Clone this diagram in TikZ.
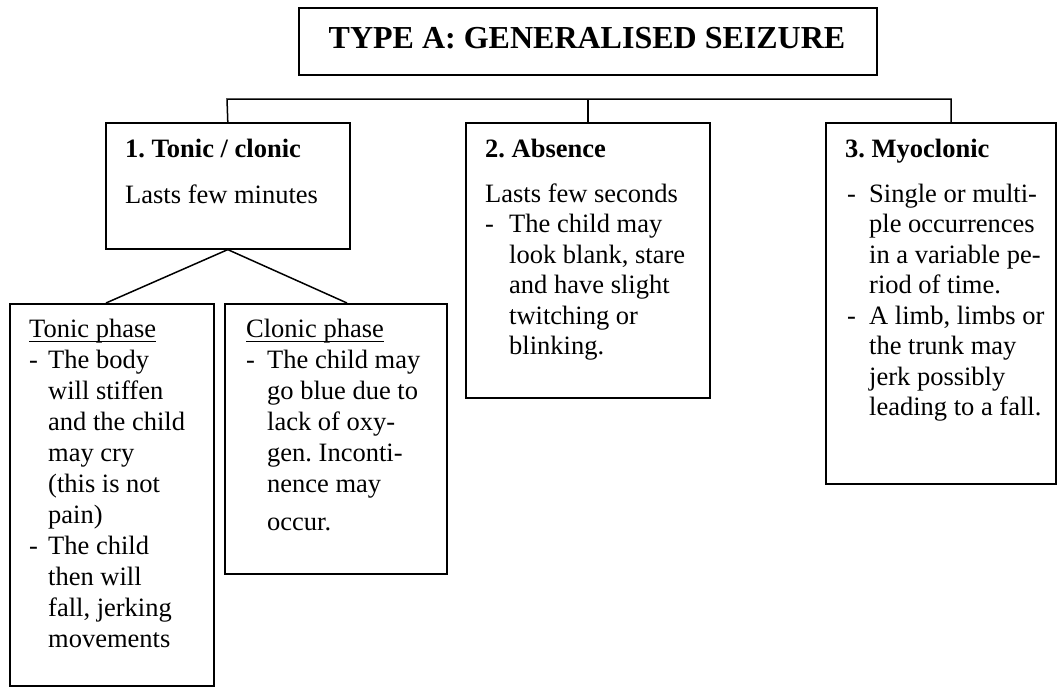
\documentclass[tikz,border=0pt]{standalone}
\usepackage{fontspec}
\setmainfont{Liberation Serif}
\frenchspacing
\newcommand\dashit[1]{\makebox[#1][l]{-}}
\newcommand\indit[1]{\hspace*{#1}}
\newcommand\ulin[1]{\setbox0\hbox{#1}\rlap{\rule[-5pt]{\wd0}{1.3pt}}\box0}
\newcommand\lines[1]{\begin{tabular}[t]{@{}l@{}}#1\end{tabular}}
\begin{document}
\begin{tikzpicture}[x=1pt,y=-1pt,
  panel/.style={draw, line width=1.6pt, inner sep=0pt, anchor=north west},
  link/.style={line width=1.5pt},
  txt/.style={anchor=base west, inner sep=0pt, font=\fontsize{26.5}{31}\selectfont},
  txtb/.style={txt, font=\fontsize{26.5}{30.5}\selectfont},
  head/.style={anchor=base west, inner sep=0pt, font=\fontsize{26.5}{31}\selectfont\bfseries}]
\useasboundingbox (0,0) rectangle (1058,686);
% boxes
\node[panel, minimum width=578pt, minimum height=67pt] (title) at (298,7) {};
\node[panel, minimum width=244pt, minimum height=126pt] (b1) at (105,122) {};
\node[panel, minimum width=244pt, minimum height=275pt] (b2) at (465,122) {};
\node[panel, minimum width=230pt, minimum height=361pt] (b3) at (825,122) {};
\node[panel, minimum width=204pt, minimum height=382pt] (tonic) at (9,303) {};
\node[panel, minimum width=222pt, minimum height=270pt] (clonic) at (224,303) {};
% title text
\node[anchor=base, inner sep=0pt, font=\fontsize{32}{36}\selectfont\bfseries] (ttl) at (587,48) {TYPE A: GENERALISED SEIZURE};
% connectors
\coordinate (barL) at (227,99);
\coordinate (barR) at (951,99);
\draw[link] (b1.north) -- (barL) -- (barR) -- (barR |- b3.north);
\draw[link] (b2.north) -- (b2.north |- barL);
\coordinate (tj) at (106,303);
\coordinate (cj) at (347,303);
\draw[link] (tj) -- (b1.south) -- (cj);
% box 1
\node[head] (h1) at (125,157) {1. Tonic / clonic};
\node[txt] (t1) at (125,203) {Lasts few minutes};
% box 2
\node[head] (h2) at (485,157) {2. Absence};
\node[txtb] (t2) at (485,202) {\lines{Lasts few seconds\\
\dashit{24pt}The child may\\
\indit{24pt}look blank, stare\\
\indit{24pt}and have slight\\
\indit{24pt}twitching or\\
\indit{24pt}blinking.}};
% box 3
\node[head] (h3) at (845,157) {3. Myoclonic};
\node[txtb] (t3) at (847,202) {\lines{\dashit{22pt}Single or multi-\\
\indit{22pt}ple occurrences\\
\indit{22pt}in a variable pe-\\
\indit{22pt}riod of time.\\
\dashit{22pt}A limb, limbs or\\
\indit{22pt}the trunk may\\
\indit{22pt}jerk possibly\\
\indit{22pt}leading to a fall.}};
% tonic
\node[txt] (ht) at (29,337) {\ulin{Tonic phase}};
\node[txt] (tt) at (29,368) {\lines{\dashit{19pt}The body\\
\indit{19pt}will stiffen\\
\indit{19pt}and the child\\
\indit{19pt}may cry\\
\indit{19pt}(this is not\\
\indit{19pt}pain)\\
\dashit{19pt}The child\\
\indit{19pt}then will\\
\indit{19pt}fall, jerking\\
\indit{19pt}movements}};
% clonic
\node[txt] (hc) at (246,337) {\ulin{Clonic phase}};
\node[txt] (tc) at (246,368) {\lines{\dashit{21pt}The child may\\
\indit{21pt}go blue due to\\
\indit{21pt}lack of oxy-\\
\indit{21pt}gen. Inconti-\\
\indit{21pt}nence may\\[7pt]
\indit{21pt}occur.}};
\end{tikzpicture}
\end{document}
